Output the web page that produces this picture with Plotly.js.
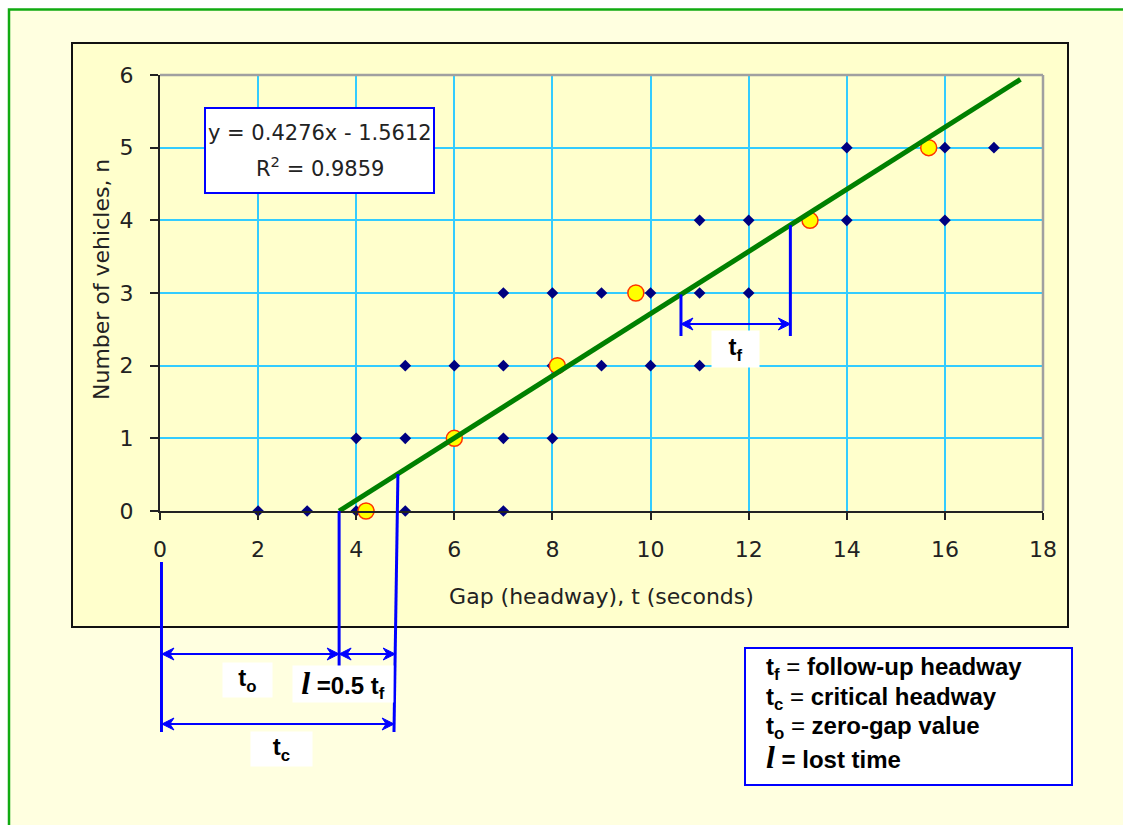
<!DOCTYPE html>
<html><head><meta charset="utf-8">
<script src="https://cdn.plot.ly/plotly-3.0.1.min.js"></script>
<style>html,body{margin:0;padding:0;background:#fff}#chart{width:1123px;height:825px}</style>
</head><body><div id="chart"></div>
<script>
// ---- data ----
const gapX = [2,3,4,5,7, 4,5,6,7,8, 5,6,7,8,9,10,11, 7,8,9,10,11,12, 11,12,14,16, 14,16,17];
const vehN = [0,0,0,0,0, 1,1,1,1,1, 2,2,2,2,2,2,2, 3,3,3,3,3,3, 4,4,4,4, 5,5,5];
const meanGap = [4.2, 6.0, 8.1, 9.7, 13.25, 15.67];
const meanN = [0, 1, 2, 3, 4, 5];
const trendX = [3.651, 17.54];
const trendY = [0, 5.94];
const fitCoef = [0.4276, -1.5612];
const fitR2 = [0.9859];
const tfMarks = [10.62, 12.85];
const xTicks = [0,2,4,6,8,10,12,14,16,18];
const yTicks = [0,1,2,3,4,5,6];
const keyNames = ['follow-up headway', 'critical headway', 'zero-gap value', 'lost time'];

// ---- layout helpers (pixel -> paper) ----
const W = 1123, H = 825, M = {l:160, r:80, t:75, b:314};
const PW = W - M.l - M.r, PH = H - M.t - M.b;
const px = p => (p - M.l) / PW;
const py = p => (H - M.b - p) / PH;

const tZero = -fitCoef[1] / fitCoef[0];
const tFollow = 1 / fitCoef[0];
const tCrit = tZero + 0.5 * tFollow;
const onLine = x => fitCoef[0] * x + fitCoef[1];

const BLUE = '#0000FF';
const axFont = {family:'DejaVu Sans, Verdana, sans-serif', size:22, color:'#222222'};
const boldFont = {family:'Liberation Sans, Arial, sans-serif', size:24, color:'#000000', weight:700};
const lSym = '<span style="font-family:Liberation Serif, Times New Roman, serif;font-style:italic;font-size:32px">l</span>';
const eqSign = '<span style="font-weight:400">=</span>';

const traces = [
  {x: gapX, y: vehN, type:'scatter', mode:'markers', cliponaxis:false,
   marker:{symbol:'diamond', size:9, color:'#000080'}},
  {x: meanGap, y: meanN, type:'scatter', mode:'markers', cliponaxis:false,
   marker:{symbol:'circle', size:16, color:'#FFFF00', line:{color:'#FF3300', width:1.5}}},
  {x: trendX, y: trendY, type:'scatter', mode:'lines',
   line:{color:'#008000', width:5}}
];

function seg(x0, y0, x1, y1, yref, w) {
  return {type:'line', xref:'x', yref:yref, x0:x0, y0:y0, x1:x1, y1:y1,
          line:{color:BLUE, width:w}, layer:'above'};
}
function head(x, y, yref, dir) {
  const s = dir; // -1 points left, +1 points right
  const p = 'M0,0 L' + (-s*12) + ',6 L' + (-s*8) + ',0 L' + (-s*12) + ',-6 Z';
  return {type:'path', xref:'x', yref:yref, xsizemode:'pixel', ysizemode:'pixel',
          xanchor:x, yanchor:y, path:p, fillcolor:BLUE, line:{color:BLUE, width:1}, layer:'above'};
}
function arrow(xa, xb, yv, yref) {
  return [seg(xa, yv, xb, yv, yref, 2), head(xa, yv, yref, -1), head(xb, yv, yref, 1)];
}
function label(txt, cx, cy, w, h) {
  return {xref:'paper', yref:'paper', x:px(cx), y:py(cy), xanchor:'center', yanchor:'middle',
          showarrow:false, text:txt, bgcolor:'#FFFFFF', width:w, height:h, borderpad:0,
          align:'center', valign:'middle', font:boldFont};
}
function keyLine(txt, cy) {
  return {xref:'paper', yref:'paper', x:px(764), y:py(cy), xanchor:'left', yanchor:'middle',
          showarrow:false, text:txt, align:'left', font:boldFont};
}

const tcTop = 4.85, tcBot = 4.77;
const tcAt654 = tcTop - (654-474)/(732-474)*(tcTop-tcBot);
const tcAt724 = tcTop - (724-474)/(732-474)*(tcTop-tcBot);
const shapes = [
  // outer panel
  {type:'rect', xref:'paper', yref:'paper', x0:px(9), x1:px(1140), y0:py(9.5), y1:py(860),
   fillcolor:'#FFFFE0', line:{color:'#11AA11', width:2.5}, layer:'below'},
  // chart area
  {type:'rect', xref:'paper', yref:'paper', x0:px(72), x1:px(1068), y0:py(43), y1:py(627),
   fillcolor:'#FFFFCC', line:{color:'#111111', width:2}, layer:'below'},
  // plot frame top/right
  {type:'line', xref:'paper', yref:'paper', x0:0, x1:1, y0:1, y1:1, line:{color:'#A0A0A0', width:2.5}, layer:'above'},
  {type:'line', xref:'paper', yref:'paper', x0:1, x1:1, y0:0, y1:1, line:{color:'#A0A0A0', width:2.5}, layer:'above'},
  // equation box
  {type:'rect', xref:'paper', yref:'paper', x0:px(205), x1:px(434), y0:py(108), y1:py(193),
   fillcolor:'#FFFFFF', line:{color:BLUE, width:2}, layer:'above'},
  // key box
  {type:'rect', xref:'paper', yref:'paper', x0:px(745), x1:px(1072), y0:py(648), y1:py(785),
   fillcolor:'#FFFFFF', line:{color:BLUE, width:2}, layer:'above'},
  // construction lines
  seg(0.03, py(562), 0.03, py(732), 'paper', 3),
  seg(tZero, 0, tZero, py(666), 'paper', 3),
  seg(tcTop, py(474), tcBot, py(732), 'paper', 3),
  seg(tfMarks[0], onLine(tfMarks[0]), tfMarks[0], (511-336)/72.67, 'y', 3),
  seg(tfMarks[1], onLine(tfMarks[1]), tfMarks[1], (511-336)/72.67, 'y', 3)
].concat(
  arrow(0.04, tZero, py(654), 'paper'),
  arrow(tZero, tcAt654, py(654), 'paper'),
  arrow(0.04, tcAt724, py(724), 'paper'),
  arrow(tfMarks[0], tfMarks[1], (511-324)/72.67, 'y')
);

const annotations = [
  {xref:'paper', yref:'paper', x:px(319.5), y:py(133), xanchor:'center', yanchor:'middle', showarrow:false,
   text:'y = ' + fitCoef[0] + 'x - ' + Math.abs(fitCoef[1]), font:{family:axFont.family, size:21, color:'#222222'}},
  {xref:'paper', yref:'paper', x:px(319.5), y:py(167), xanchor:'center', yanchor:'middle', showarrow:false,
   text:'R<sup>2</sup> = ' + fitR2[0], font:{family:axFont.family, size:21, color:'#222222'}},
  {xref:'paper', yref:'paper', x:px(101), y:py(280), xanchor:'center', yanchor:'middle', showarrow:false, textangle:-90,
   text:'Number of vehicles, n', font:axFont},
  label('t<sub>o</sub>', 247.5, 680, 49, 34),
  label(lSym + ' =0.5 t<sub>f</sub>', 343, 684, 100, 36),
  label('t<sub>c</sub>', 281.5, 749, 61, 34),
  label('t<sub>f</sub>', 735.5, 349, 47, 36),
  keyLine('t<sub>f</sub> ' + eqSign + ' ' + keyNames[0], 668),
  keyLine('t<sub>c</sub> ' + eqSign + ' ' + keyNames[1], 698),
  keyLine('t<sub>o</sub> ' + eqSign + ' ' + keyNames[2], 727),
  keyLine(lSym + ' = ' + keyNames[3], 757)
];

const layout = {
  width: W, height: H, margin: M,
  paper_bgcolor:'#FFFFFF', plot_bgcolor:'rgba(0,0,0,0)',
  showlegend:false,
  xaxis:{range:[0,18], tickvals:xTicks, ticktext:xTicks.map(String),
    showgrid:true, gridcolor:'#33CCFF', gridwidth:2, zeroline:false,
    showline:true, linecolor:'#222222', linewidth:2,
    ticks:'outside', ticklen:7, tickwidth:2, tickcolor:'#222222',
    tickfont:axFont, ticklabelstandoff:11, automargin:false,
    title:{text:'Gap (headway), t (seconds)', font:axFont, standoff:27}},
  yaxis:{range:[0,6], tickvals:yTicks, ticktext:yTicks.map(String),
    showgrid:true, gridcolor:'#33CCFF', gridwidth:2, zeroline:false,
    showline:true, linecolor:'#222222', linewidth:2,
    ticks:'outside', ticklen:8, tickwidth:2, tickcolor:'#222222',
    tickfont:axFont, ticklabelstandoff:12, automargin:false},
  shapes: shapes,
  annotations: annotations
};

Plotly.newPlot('chart', traces, layout, {displayModeBar:false, staticPlot:true});
</script>
</body></html>
